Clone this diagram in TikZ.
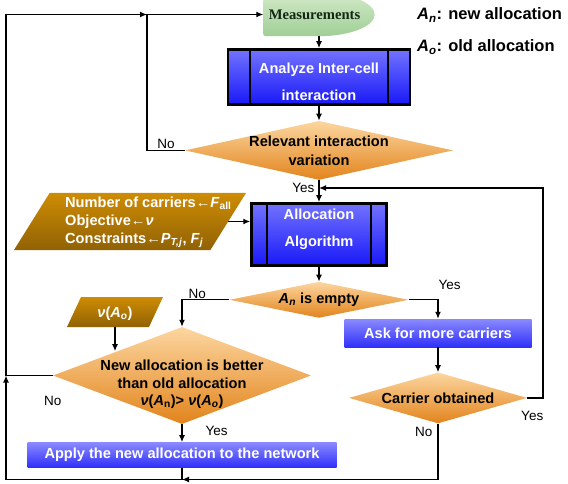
\documentclass[tikz,border=0pt]{standalone}
\usepackage{fontspec}
\setmainfont{Liberation Sans}
\newfontfamily\measfont{Liberation Serif}
\definecolor{procTop}{RGB}{115,115,255}
\definecolor{procBot}{RGB}{25,25,248}
\definecolor{actTop}{RGB}{138,138,255}
\definecolor{actBot}{RGB}{48,48,250}
\definecolor{decTop}{RGB}{252,214,160}
\definecolor{decBot}{RGB}{226,132,28}
\definecolor{dataTop}{RGB}{206,140,4}
\definecolor{dataBot}{RGB}{145,98,4}
\definecolor{measTop}{RGB}{210,234,200}
\definecolor{measBot}{RGB}{160,206,150}
\definecolor{measText}{RGB}{20,38,20}
\usetikzlibrary{calc}
\usetikzlibrary{positioning}
\usetikzlibrary{shapes.geometric,arrows.meta,backgrounds}

\tikzset{
  base/.style={font=\bfseries\fontsize{14.6}{17.5}\selectfont, inner sep=0pt, align=center},
  procbox/.style={base, font=\bfseries\fontsize{14.6}{27}\selectfont, text=white, draw=black, line width=2.5pt, top color=procTop, bottom color=procBot},
  actbox/.style={base, text=white, top color=actTop, bottom color=actBot},
  decision/.style={base, diamond, top color=decTop, bottom color=decBot},
  databox/.style={base, trapezium, trapezium left angle=#1, trapezium right angle=180-#1, text=white, top color=dataTop, bottom color=dataBot},
  meas/.style={minimum width=111pt, minimum height=43pt, inner sep=0pt, text=measText, font=\measfont\bfseries\fontsize{14.6}{17}\selectfont},
  lbl/.style={font=\fontsize{13.5}{16}\selectfont, inner sep=1pt},
  legend/.style={font=\bfseries\fontsize{16.5}{20}\selectfont, anchor=west, inner sep=0pt},
  flow/.style={line width=1.3pt, ->}
}

\begin{document}
\begin{tikzpicture}[x=1pt, y=-1pt, >={Latex[length=7pt,width=6pt]}]
  \useasboundingbox (0,0) rectangle (568,484);

  \node [meas] (meas) at (319,14.5) {Measurements\hspace*{9pt}};
  \begin{scope}[on background layer]
    \shade [top color=measTop, bottom color=measBot]
      (meas.north west) -- ($(meas.south west)+(0,-5)$) .. controls (meas.south west) .. ($(meas.south west)+(5,0)$)
      -- (meas.south) .. controls +(30.6,0) and +(0,11.9) .. (meas.east)
      .. controls +(0,-11.9) and +(30.6,0) .. (meas.north) -- cycle;
  \end{scope}

  \node [procbox, minimum width=182pt, minimum height=55pt, below=12pt of meas] (analyze) {\rule{0pt}{20.6pt}Analyze Inter-cell\\interaction};
  \node [decision, font=\bfseries\fontsize{14.6}{19}\selectfont, minimum width=268pt, minimum height=59pt, shape aspect=4.54, inner sep=-6pt, below=15pt of analyze] (relevant) {Relevant interaction\\variation};
  \node [procbox, minimum width=135pt, minimum height=62pt, below=22pt of relevant] (alloc) {Allocation\\Algorithm\rule[-13.5pt]{0pt}{0pt}};
  \node [decision, minimum width=179pt, minimum height=36pt, shape aspect=4.97, inner sep=-4pt, below=15pt of alloc] (empty) {\textit{A}\textsubscript{\textit{n}} is empty};

  \node [actbox, minimum width=187pt, minimum height=28pt] at (438,333) (ask) {Ask for more carriers};
  \node [decision, minimum width=178pt, minimum height=51pt, shape aspect=3.49, inner sep=-4pt, below=25pt of ask] (carrier) {Carrier obtained};

  \node [decision, minimum width=258pt, minimum height=97pt, shape aspect=2.66, inner sep=-14pt] at (182,375.5) (better) {\rule{0pt}{28.6pt}New allocation is better\\than old allocation\\\textit{ν}(\textit{A}\textsubscript{n})> \textit{ν}(\textit{A}\textsubscript{\textit{o}})};
  \node [actbox, minimum width=309pt, minimum height=25pt, below=18pt of better] (apply) {Apply the new allocation to the network};

  % inputs
  \node [databox=58, text width=160.8pt, text height=57pt, text depth=0pt] at (130,221.5) (inp) {};
  \node [base, font=\bfseries\fontsize{14.6}{18}\selectfont, text=white, align=left, anchor=west] at (65,222) (inptext) {Number of carriers←\textit{F}\textsubscript{all}\\Objective←\textit{ν}\\Constraints←\textit{P}\textsubscript{\textit{T,j}}, \textit{F}\textsubscript{\textit{j}}};
  \node [databox=65, text width=68pt, text height=20pt, text depth=10pt] at (115,312) (nuin) {\textit{ν}(\textit{A}\textsubscript{\textit{o}})};

  \node [legend] at (417,15) (legn) {\textit{A}\textsubscript{\textit{n}}: new allocation};
  \node [legend] at (417,47) (lego) {\textit{A}\textsubscript{\textit{o}}: old allocation};

  \foreach \proc/\inset in {analyze/23, alloc/17} {
    \draw [line width=2.2pt] ([xshift=\inset pt]\proc.north west) -- ([xshift=\inset pt]\proc.south west);
    \draw [line width=2.2pt] ([xshift=-\inset pt]\proc.north east) -- ([xshift=-\inset pt]\proc.south east);
  }

  \coordinate (jointop) at (147,14.5);
  \coordinate (joinl) at (6,375.5);
  \coordinate (joinb) at (182,479.5);
  \coordinate (joinm) at ($(relevant.south)!0.36!(alloc.north)$);
  \coordinate (rloop) at ($(joinm)+(224,0)$);

  \draw [flow] (meas.south) -- (analyze.north);
  \draw [flow] (analyze.south) -- (relevant.north);
  \draw [flow] (relevant.west) -| node [lbl, pos=0.25, above] {No} (jointop) -- (meas.west);
  \draw [flow] (relevant.south) -- node [lbl, pos=0.35, left=3pt] {Yes} (alloc.north);
  \draw [flow] (inp.east) -- (inp.east -| alloc.west);
  \draw [flow] (alloc.south) -- (empty.north);
  \draw [flow] (empty.west) -| node [lbl, pos=0.34, above] {No} (better.north);
  \draw [flow] (empty.east) -| node [lbl, pos=0.5, anchor=south west, xshift=-1pt, yshift=9pt] {Yes} (ask.north);
  \draw [flow] (ask.south) -- (carrier.north);
  \draw [flow] (carrier.east) -| node [lbl, pos=0.16, below=12pt] {Yes} (rloop) -- (joinm);
  \draw [flow] (carrier.south) |- node [lbl, pos=0.07, left=4pt] {No} (joinb);
  \draw [flow] (nuin.south) -- (nuin.south |- better.north west);
  \draw [flow] (better.south) -- node [lbl, pos=0.4, right=22pt] {Yes} (apply.north);
  \draw [flow] (better.west) -- node [lbl, pos=0, below=19pt] {No} (joinl) |- (jointop);
  \draw [flow] (apply.south) -- (joinb) -| (joinl);
\end{tikzpicture}
\end{document}
